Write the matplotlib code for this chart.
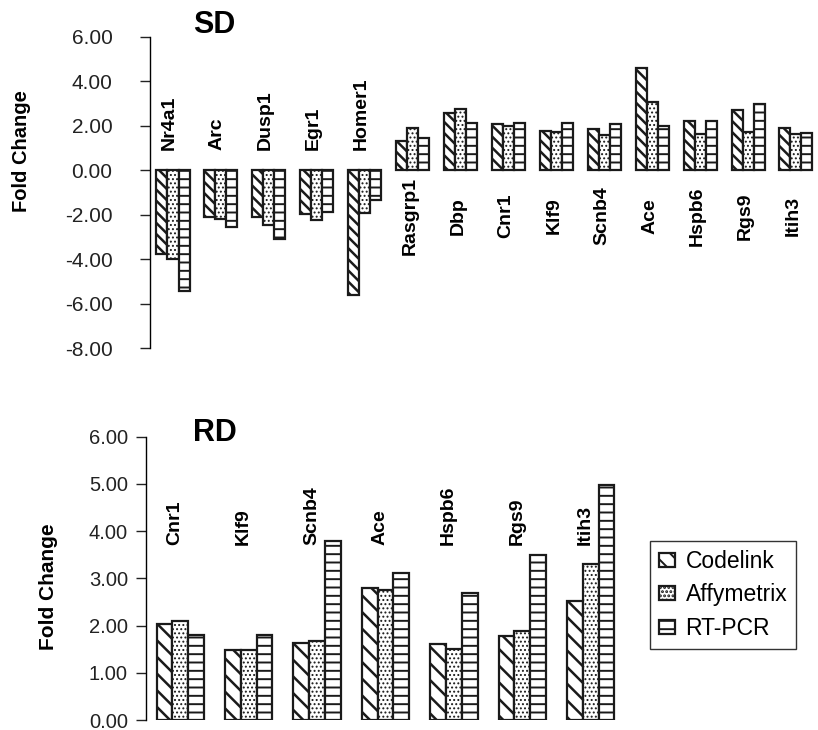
import matplotlib.pyplot as plt
import numpy as np

plt.rcParams['font.family'] = ['Liberation Sans', 'DejaVu Sans']

# SD data
sd_genes = ['Nr4a1', 'Arc', 'Dusp1', 'Egr1', 'Homer1', 'Rasgrp1', 'Dbp', 'Cnr1',
            'Klf9', 'Scnb4', 'Ace', 'Hspb6', 'Rgs9', 'Itih3']
sd_codelink = [-3.76, -2.10, -2.10, -1.98, -5.60, 1.32, 2.60, 2.08, 1.77, 1.85, 4.59, 2.23, 2.70, 1.92]
sd_affy = [-3.98, -2.18, -2.48, -2.26, -1.91, 1.91, 2.75, 1.98, 1.73, 1.61, 3.08, 1.65, 1.73, 1.65]
sd_rtpcr = [-5.44, -2.56, -3.08, -1.88, -1.35, 1.47, 2.15, 2.15, 2.15, 2.08, 1.98, 2.23, 3.00, 1.68]

# RD data
rd_genes = ['Cnr1', 'Klf9', 'Scnb4', 'Ace', 'Hspb6', 'Rgs9', 'Itih3']
rd_codelink = [2.03, 1.48, 1.64, 2.79, 1.61, 1.78, 2.52]
rd_affy = [2.10, 1.48, 1.68, 2.75, 1.51, 1.88, 3.31]
rd_rtpcr = [1.80, 1.80, 3.80, 3.12, 2.68, 3.49, 4.97]

series_names = ['Codelink', 'Affymetrix', 'RT-PCR']
hatch_lw = [1.8, 0.9, 1.4]

W, H = 818, 730
fig = plt.figure(figsize=(W / 100, H / 100), dpi=100)

ax1 = fig.add_axes([150 / W, 1 - 348 / H, 668 / W, 311 / H])
ax2 = fig.add_axes([146 / W, 1 - 720 / H, 479 / W, 283.3 / H])

bw = 0.23


def draw(ax, genes, vals, hatches):
    x = np.arange(len(genes))
    bars = []
    for i, (v, name) in enumerate(zip(vals, series_names)):
        plt.rcParams['hatch.linewidth'] = hatch_lw[i]
        b = ax.bar(x + (i - 1) * bw, v, bw, color='white', edgecolor='#1a1a1a',
                   linewidth=1.6, hatch=hatches[i], label=name)
        bars.append(b)
    for s in ['top', 'right', 'bottom']:
        ax.spines[s].set_visible(False)
    ax.spines['left'].set_linewidth(1.0)
    ax.set_xticks([])
    ax.tick_params(axis='y', direction='out', length=7, width=1.0, colors='#222222')
    return x, bars


x1, _ = draw(ax1, sd_genes, [sd_codelink, sd_affy, sd_rtpcr], ['\\\\\\', '....', '--'])
ax1.set_ylim(-8, 6)
ax1.set_yticks(np.arange(-8, 7, 2))
ax1.set_yticklabels(['%.2f' % t for t in np.arange(-8, 7, 2)])
ax1.set_xlim(-0.48, 13.46)
ax1.tick_params(axis='y', pad=20, labelsize=15)
for xi, g, c in zip(x1, sd_genes, sd_codelink):
    if c < 0:
        ax1.text(xi - 0.08, 0.9, g, rotation=90, ha='center', va='bottom',
                 fontsize=14, fontweight='bold')
    else:
        ax1.text(xi - 0.05, -2.05, g, rotation=90, ha='center', va='center',
                 fontsize=14, fontweight='bold')

x2, bars2 = draw(ax2, rd_genes, [rd_codelink, rd_affy, rd_rtpcr], ['\\\\', '....', '--'])
ax2.set_ylim(0, 6)
ax2.set_yticks(np.arange(0, 7, 1))
ax2.set_yticklabels(['%.2f' % t for t in np.arange(0, 7, 1)])
ax2.set_xlim(-0.5, 6.5)
ax2.tick_params(axis='y', pad=6, labelsize=14.5)
for xi, g in zip(x2, rd_genes):
    ax2.text(xi - 0.08, 3.7, g, rotation=90, ha='center', va='bottom',
             fontsize=14, fontweight='bold')

fig.text(214 / W, 1 - 25 / H, 'SD', fontsize=22, fontweight='bold', ha='center', va='center')
fig.text(215 / W, 1 - 433 / H, 'RD', fontsize=22, fontweight='bold', ha='center', va='center')
fig.text(22 / W, 1 - 151 / H, 'Fold Change', rotation=90, fontsize=14.5,
         fontweight='bold', ha='center', va='center')
fig.text(48 / W, 1 - 587 / H, 'Fold Change', rotation=90, fontsize=15,
         fontweight='bold', ha='center', va='center')

leg = fig.legend(handles=bars2, labels=series_names, loc='upper left',
                 bbox_to_anchor=(650 / W, 1 - 541 / H), fontsize=16.5,
                 frameon=True, fancybox=False, edgecolor='black',
                 handlelength=0.7, handleheight=0.55, handletextpad=0.45,
                 labelspacing=0.45, borderpad=0.4, borderaxespad=0)
leg.get_frame().set_linewidth(1.0)

fig.savefig('out.png', dpi=100)
